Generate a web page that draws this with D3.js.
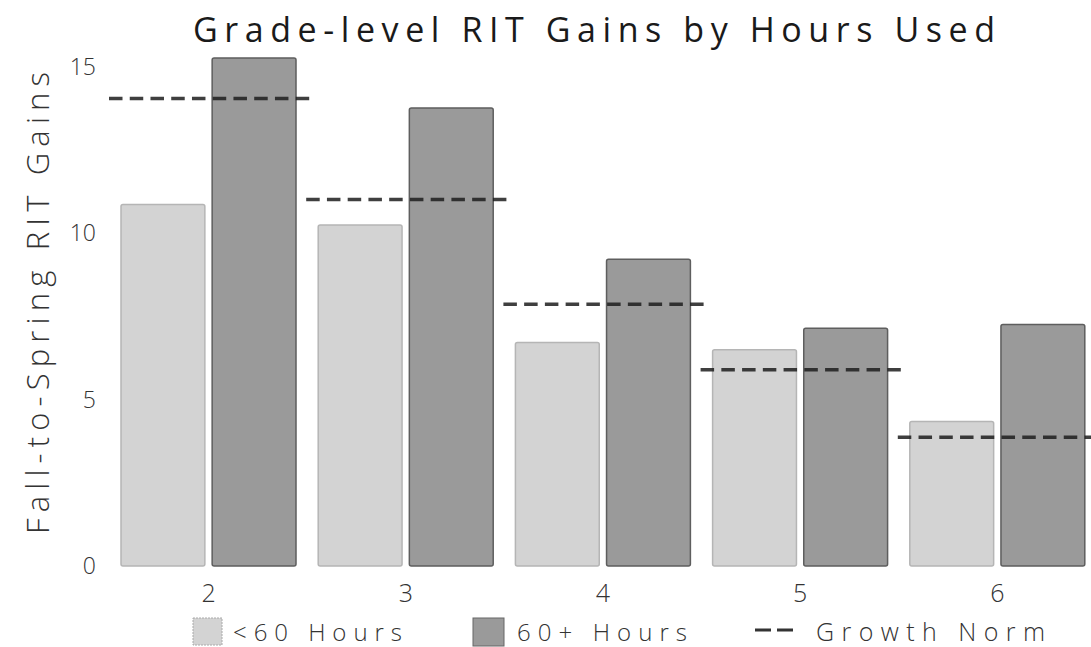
<!DOCTYPE html>
<html><head><meta charset="utf-8">
<script src="https://cdn.jsdelivr.net/npm/d3@7"></script>
<style>
html,body{margin:0;padding:0;background:#fff;}
svg{display:block;}
text{font-family:"Open Sans",sans-serif;}
</style></head>
<body>
<svg id="chart" width="1091" height="647"></svg>
<script>
const grades = ["2","3","4","5","6"];
const seriesKeys = ["<60 Hours","60+ Hours"];
const under60 = [10.87, 10.25, 6.72, 6.5, 4.34];
const over60 = [15.27, 13.77, 9.22, 7.15, 7.26];
const growthNorm = [14.05, 11.02, 7.87, 5.9, 3.87];
const yTicks = [0, 5, 10, 15];
const title = "Grade-level RIT Gains by Hours Used";
const yTitle = "Fall-to-Spring RIT Gains";
const normLabel = "Growth Norm";

const svg = d3.select("#chart");
const fills = {"<60 Hours":"#d3d3d3","60+ Hours":"#9a9a9a"};
const strokes = {"<60 Hours":"#b5b5b5","60+ Hours":"#5e5e5e"};

const x0 = d3.scaleBand().domain(grades).range([110, 1096]).padding(0);
const x1 = d3.scaleBand().domain(seriesKeys).range([11, 186]).paddingInner(0.08);
const y = d3.scaleLinear().domain([0, 15]).range([566, 67]);

const data = grades.map((g,i)=>({g, vals:[{k:seriesKeys[0], v:under60[i]},{k:seriesKeys[1], v:over60[i]}], norm:growthNorm[i]}));

// title
svg.append("text").attr("x", 594).attr("y", 42).attr("text-anchor","middle")
  .attr("font-size", 34).attr("font-weight", 500).attr("fill","#1a1a1a")
  .attr("textLength", 802).attr("lengthAdjust","spacing").text(title);

// y axis title
svg.append("text").attr("transform","translate(49,303) rotate(-90)").attr("text-anchor","middle")
  .attr("font-size", 31).attr("font-weight", 300).attr("fill","#333")
  .attr("textLength", 462).attr("lengthAdjust","spacing").text(yTitle);

// y axis
const yAxis = svg.append("g").attr("transform","translate(98,0)")
  .call(d3.axisLeft(y).tickValues(yTicks).tickSize(0).tickPadding(2));
yAxis.select(".domain").remove();
yAxis.selectAll("text").attr("font-size", 23).attr("font-weight", 300).attr("fill","#333")
  .attr("font-family","Open Sans");

// x axis
const xAxis = svg.append("g").attr("transform","translate(0,569)")
  .call(d3.axisBottom(x0).tickSize(0).tickPadding(15));
xAxis.select(".domain").remove();
xAxis.selectAll("text").attr("font-size", 25).attr("font-weight", 300).attr("fill","#333")
  .attr("font-family","Open Sans");

// bars
const groups = svg.append("g").selectAll("g").data(data).join("g")
  .attr("transform", d=>`translate(${x0(d.g)},0)`);
groups.selectAll("rect").data(d=>d.vals).join("rect")
  .attr("x", d=>x1(d.k)).attr("width", x1.bandwidth())
  .attr("y", d=>y(d.v)).attr("height", d=>y(0)-y(d.v))
  .attr("rx", 2)
  .attr("fill", d=>fills[d.k]).attr("stroke", d=>strokes[d.k]).attr("stroke-width", 1.5);

// norm lines
const L = x0.bandwidth() + 3;
const dash = 13.5, gap = (L - 10*dash)/9;
svg.append("g").selectAll("line").data(data).join("line")
  .attr("x1", d=>x0(d.g)-1).attr("x2", d=>x0(d.g)-1+L)
  .attr("y1", d=>y(d.norm)).attr("y2", d=>y(d.norm))
  .attr("stroke","#1e1e1e").attr("stroke-width",3.5).attr("stroke-dasharray",`${dash},${gap}`)
  .attr("opacity",0.85);

// legend
const leg = svg.append("g");
leg.append("rect").attr("x",193).attr("y",618).attr("width",29).attr("height",27)
  .attr("fill",fills[seriesKeys[0]]).attr("stroke","#aaa").attr("stroke-dasharray","2,1");
leg.append("text").attr("x",233).attr("y",641).attr("font-size",24).attr("font-weight",300).attr("fill","#333")
  .attr("textLength",169).attr("lengthAdjust","spacing").text(seriesKeys[0]);
leg.append("rect").attr("x",473).attr("y",618).attr("width",31).attr("height",28)
  .attr("fill",fills[seriesKeys[1]]).attr("stroke","#666");
leg.append("text").attr("x",517).attr("y",641).attr("font-size",24).attr("font-weight",300).attr("fill","#333")
  .attr("textLength",170).attr("lengthAdjust","spacing").text(seriesKeys[1]);
leg.append("line").attr("x1",755).attr("x2",793).attr("y1",630).attr("y2",630)
  .attr("stroke","#333").attr("stroke-width",3).attr("stroke-dasharray","16,6");
leg.append("text").attr("x",816).attr("y",641).attr("font-size",25).attr("font-weight",300).attr("fill","#333")
  .attr("textLength",229).attr("lengthAdjust","spacing").text(normLabel);
</script>
</body></html>
